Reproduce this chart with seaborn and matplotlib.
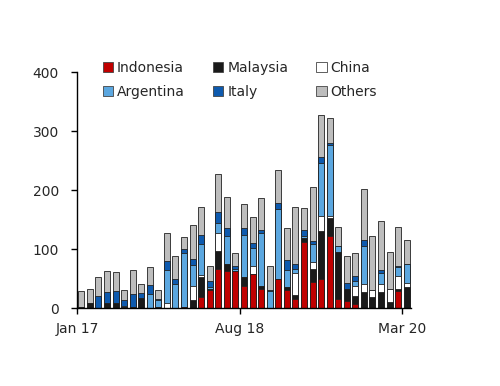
import matplotlib
matplotlib.use("Agg")
import matplotlib.pyplot as plt
import seaborn as sns
import numpy as np
import pandas as pd
from matplotlib.patches import Patch

# monthly, Jan 2017 .. Mar 2020
months = pd.date_range("2017-01-01", "2020-03-01", freq="MS").strftime("%b %y").tolist()

indonesia = [0, 0, 0, 0, 0, 0, 0, 0, 0, 0, 0, 0, 1, 0, 19, 31, 66, 62, 63, 37,
             57, 32, 0, 50, 30, 16, 112, 44, 50, 122, 16, 12, 6, 0, 0, 0, 0, 29, 0]
malaysia = [1, 9, 0, 8, 8, 2, 2, 17, 0, 2, 0, 0, 0, 13, 33, 2, 31, 12, 0, 16,
            0, 6, 0, 0, 5, 6, 6, 22, 81, 31, 79, 20, 15, 27, 19, 27, 11, 3, 36]
china = [0, 0, 0, 0, 0, 0, 0, 0, 0, 0, 8, 0, 0, 25, 4, 0, 30, 0, 0, 0,
         15, 0, 0, 0, 0, 38, 0, 12, 25, 3, 0, 0, 16, 14, 11, 13, 22, 23, 7]
argentina = [0, 0, 0, 0, 0, 2, 0, 0, 24, 12, 56, 41, 93, 35, 53, 2, 18, 48, 4, 71,
             30, 90, 29, 118, 30, 6, 4, 30, 90, 120, 10, 0, 9, 65, 0, 19, 0, 15, 32]
italy = [0, 0, 20, 19, 21, 9, 22, 8, 15, 2, 15, 8, 6, 11, 15, 10, 18, 14, 4, 12,
         8, 5, 2, 10, 16, 8, 10, 5, 10, 4, 1, 10, 8, 10, 1, 5, 0, 1, 0]
others = [28, 24, 33, 35, 32, 17, 40, 15, 31, 15, 48, 39, 20, 56, 48, 26, 65, 53, 22, 41,
          44, 54, 41, 56, 54, 98, 38, 93, 71, 43, 32, 46, 39, 86, 91, 84, 62, 66, 40]

series = ["Indonesia", "Malaysia", "China", "Argentina", "Italy", "Others"]
colors = ["#C00000", "#1A1A1A", "#FFFFFF", "#5BA7E0", "#0E5AAE", "#BDBDBD"]

df = pd.DataFrame({"month": months, "Indonesia": indonesia, "Malaysia": malaysia,
                   "China": china, "Argentina": argentina, "Italy": italy,
                   "Others": others})

sns.set_style("white")
plt.rcParams["font.family"] = ["DejaVu Sans"]

fig = plt.figure(figsize=(5, 3.86), dpi=100)
ax = fig.add_axes([0.154, 0.202, 0.668, 0.611])

# stacked bars: draw cumulative totals from the top layer down
cum = df[series].cumsum(axis=1)
for name, col in reversed(list(zip(series, colors))):
    sns.barplot(x=df["month"], y=cum[name], color=col, width=0.7,
                edgecolor="#222222", linewidth=0.6, saturation=1, ax=ax)

ax.set_xlim(-0.5, len(months) - 0.5)
ax.set_ylim(0, 400)
ax.set_yticks([0, 100, 200, 300, 400])
ax.set_xticks([-0.5, 18.5, 37.5])
ax.set_xticklabels(["Jan 17", "Aug 18", "Mar 20"])
ax.set_xlabel("")
ax.set_ylabel("")
for s in ["top", "right"]:
    ax.spines[s].set_visible(False)
for s in ["left", "bottom"]:
    ax.spines[s].set_color("black")
    ax.spines[s].set_linewidth(1.0)
ax.tick_params(axis="both", which="major", direction="out", length=4, width=1,
               color="black", labelsize=10, bottom=True, left=True)
ax.tick_params(axis="y", pad=9)
ax.tick_params(axis="x", pad=6)

order = [0, 3, 1, 4, 2, 5]
handles = [Patch(facecolor=colors[i], edgecolor="#444444", linewidth=0.6) for i in order]
labels = [series[i] for i in order]
fig.legend(handles, labels, ncol=3, loc="upper left", bbox_to_anchor=(0.205, 0.843),
           frameon=False, fontsize=10, handlelength=0.75, handleheight=0.75,
           handletextpad=0.3, columnspacing=2.0, labelspacing=0.75,
           borderpad=0, borderaxespad=0)

plt.savefig("out.png", dpi=100)
